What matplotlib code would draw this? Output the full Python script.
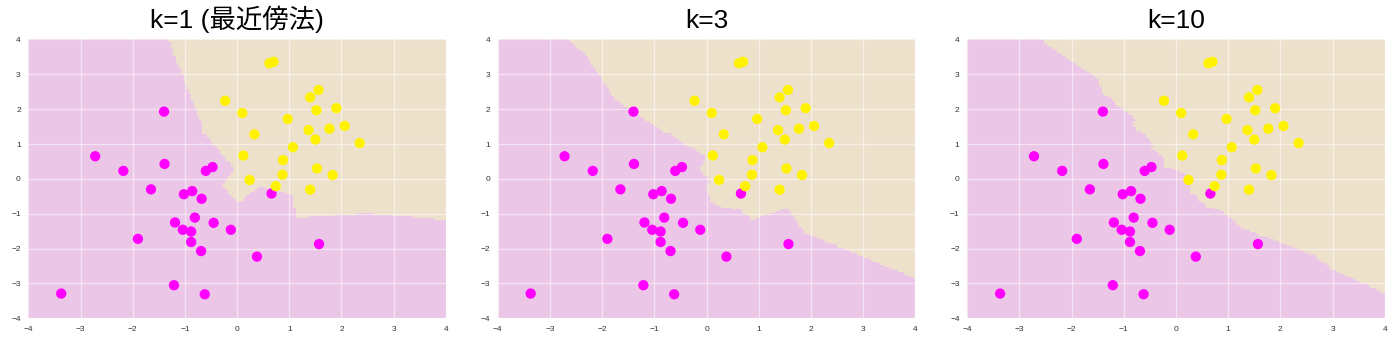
import numpy as np
import matplotlib
matplotlib.use('Agg')
import matplotlib.pyplot as plt
from matplotlib.colors import ListedColormap

# ==================== データ ====================
# クラス0 (マゼンタ)
c0_x = [-1.40, -2.72, -2.18, -1.39, -0.60, -0.47, -1.65, -1.02, -0.86, -0.68,
        0.66, -0.81, -1.19, -0.45, -1.04, -0.88, -0.12, -1.90, -0.88, -0.69,
        0.38, 1.57, -1.21, -3.37, -0.62]
c0_y = [1.93, 0.65, 0.23, 0.43, 0.23, 0.34, -0.30, -0.44, -0.35, -0.57,
        -0.42, -1.11, -1.25, -1.26, -1.46, -1.51, -1.46, -1.72, -1.81, -2.07,
        -2.23, -1.87, -3.05, -3.29, -3.31]
# クラス1 (イエロー)
c1_x = [-0.23, 0.62, 0.70, 1.56, 1.40, 0.10, 1.52, 1.90, 0.97, 0.33,
        1.37, 1.77, 2.06, 1.50, 2.35, 1.07, 0.12, 0.88, 1.53, 0.87,
        1.83, 0.24, 0.74, 1.40]
c1_y = [2.24, 3.32, 3.36, 2.55, 2.34, 1.89, 1.97, 2.03, 1.72, 1.28,
        1.40, 1.44, 1.52, 1.13, 1.03, 0.91, 0.67, 0.54, 0.30, 0.12,
        0.11, -0.03, -0.21, -0.31]

k_values = [1, 3, 10]
titles = ['k=1 (最近傍法)', 'k=3', 'k=10']

X = np.column_stack([np.r_[c0_x, c1_x], np.r_[c0_y, c1_y]])
labels = np.r_[np.zeros(len(c0_x), int), np.ones(len(c1_x), int)]


def knn_predict(pts, k):
    """k近傍法で各点のクラスを予測"""
    d = ((pts[:, None, :] - X[None, :, :]) ** 2).sum(axis=2)
    idx = np.argsort(d, axis=1)[:, :k]
    votes = labels[idx].sum(axis=1)
    return (votes > k / 2).astype(int)


h = 0.05
xx, yy = np.meshgrid(np.arange(-4, 4 + h, h), np.arange(-4, 4 + h, h))
grid = np.c_[xx.ravel(), yy.ravel()]

bg_cmap = ListedColormap(['#ECC6E6', '#EEE1CC'])
pt_cmap = ListedColormap(['#FF00FF', '#FFF200'])

fig, axes = plt.subplots(1, 3, figsize=(13.97, 3.48), dpi=100)
fig.subplots_adjust(left=0.0203, right=0.9912, bottom=0.0853, top=0.8865, wspace=0.1244)

for ax, k, title in zip(axes, k_values, titles):
    Z = knn_predict(grid, k).reshape(xx.shape)
    ax.pcolormesh(xx, yy, Z, cmap=bg_cmap, shading='nearest', zorder=0)
    ax.scatter(X[:, 0], X[:, 1], c=labels, cmap=pt_cmap, s=55,
               edgecolors='none', zorder=3)
    ax.set_xlim(-4, 4)
    ax.set_ylim(-4, 4)
    ax.set_xticks(range(-4, 5))
    ax.set_yticks(range(-4, 5))
    ax.grid(True, color='white', alpha=0.5, linewidth=1, zorder=1)
    ax.set_axisbelow(False)
    for s in ax.spines.values():
        s.set_visible(False)
    ax.tick_params(length=0, pad=5.5, labelsize=6, labelcolor='#333333')
    for lab in ax.get_xticklabels() + ax.get_yticklabels():
        lab.set_family(['Liberation Sans', 'DejaVu Sans'])
    ax.set_title(title, fontsize=19, pad=8,
                 family=['Liberation Sans', 'Noto Sans CJK JP'])

plt.savefig('out.png', dpi=100)
